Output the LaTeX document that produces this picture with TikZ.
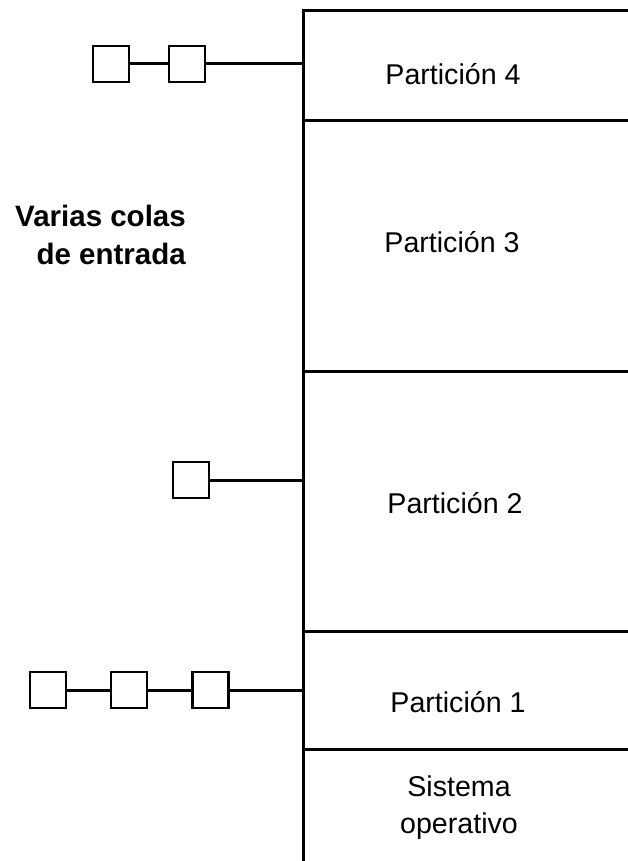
\documentclass[tikz,border=0pt]{standalone}
\usepackage{fontspec}
\setmainfont{Liberation Sans}
\usetikzlibrary{positioning}

\begin{document}
\begin{tikzpicture}[
        x=1pt, y=-1pt,
        part/.style={rectangle, draw, line width=3pt, minimum width=340pt, anchor=north west, inner sep=0pt},
        label/.style={font=\fontsize{28.6}{37}\selectfont, align=center, inner sep=0pt},
        job/.style={rectangle, draw, line width=2.2pt, minimum size=36pt, inner sep=0pt},
        link/.style={line width=3pt}
        ]
        \clip (0,0) rectangle (628,861);

        % Memoria dividida en particiones
        \node (p4) [part, minimum height=110pt] at (302,9)   {};
        \node (p3) [part, minimum height=251pt] at (302,119) {};
        \node (p2) [part, minimum height=260pt] at (302,370) {};
        \node (p1) [part, minimum height=118pt] at (302,630) {};
        \node (so) [part, minimum height=260pt] at (302,748) {};

        % Textos de las particiones
        \node (t4) [label, anchor=base] at (453,85)  {Partición 4};
        \node (t3) [label, anchor=base] at (452,252) {Partición 3};
        \node (t2) [label, anchor=base] at (455,513) {Partición 2};
        \node (t1) [label, anchor=base] at (458,712) {Partición 1};
        \node (t0) [label] at (459,808) {Sistema\\operativo};

        \node (title) [label, align=right, anchor=east, font=\bfseries\fontsize{29.5}{38}\selectfont] at (186,235) {Varias colas\\de entrada};

        % Colas de entrada
        \node (q41) [job] at (111,64) {};
        \node (q42) [job, right=38pt of q41] {};
        \node (q21) [job] at (191,480) {};
        \node (q11) [job] at (48,690) {};
        \node (q12) [job, right=43pt of q11] {};
        \node (q13) [job, right=43pt of q12] {};

        \draw[link] (q41) -- (q42);
        \draw[link] (q42) -- (q42 -| p4.west);
        \draw[link] (q21) -- (q21 -| p2.west);
        \draw[link] (q11) -- (q12);
        \draw[link] (q12) -- (q13);
        \draw[link] (q13) -- (q13 -| p1.west);

    \end{tikzpicture}
\end{document}
